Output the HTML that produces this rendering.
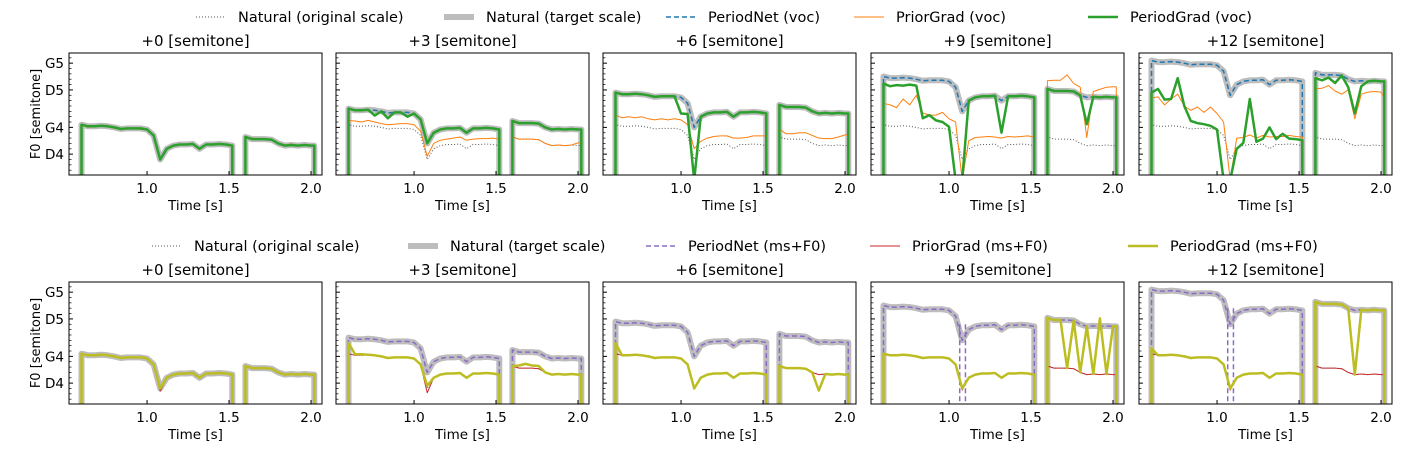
<!DOCTYPE html>
<html><head><meta charset="utf-8">
<style>
body{margin:0;background:#fff;}
svg{display:block;font-family:"DejaVu Sans","Liberation Sans",sans-serif;}
</style></head>
<body>
<svg id="fig" width="1405" height="450" viewBox="0 0 1405 450" xmlns="http://www.w3.org/2000/svg">
<defs></defs>
</svg>
<script>
// ---------- data ----------
const shifts = [0, 3, 6, 9, 12];
const seg1Times = [0.60,0.64,0.68,0.72,0.76,0.80,0.84,0.88,0.92,0.96,1.00,1.04,1.08,1.12,1.16,1.20,1.24,1.28,1.32,1.36,1.40,1.44,1.48,1.52];
const seg2Times = [1.60,1.64,1.68,1.72,1.76,1.80,1.84,1.88,1.92,1.96,2.00,2.02];
const natSeg1 = [67.5,67.2,67.2,67.3,67.2,67.0,66.7,66.8,66.8,66.8,66.6,65.5,61.0,63.0,63.6,63.8,63.8,63.9,63.0,63.8,63.8,63.9,63.8,63.6];
const natSeg2 = [65.2,64.8,64.8,64.8,64.7,64.0,63.6,63.7,63.6,63.7,63.6,63.6];
const xTicks = [1.0, 1.5, 2.0];
const yTickNotes = [79, 74, 67, 62];
const yTickLabels = ["G5", "D5", "G4", "D4"];

// offsets (semitones added to natural); null = drop to bottom
const priorVocSeg1 = [
 [0,-0.2,0.1,0,0.2,-0.2,0,-0.1,0,-0.2,0,0,0.3,0,0,0.1,0,0,0,0,0,0,0.1,0],
 [0.8,1,0.8,1,0.8,0.7,0.8,0.8,0.9,0.9,0.9,0.8,0.6,1,1,1,1.2,1.3,1.6,1,1.1,1,1.2,1.2],
 [1.8,1.6,1.8,1.5,1.8,1.6,1.7,1.8,1.6,1.8,1.8,2,2,1.4,1.4,1.5,1.6,1.5,2,1.2,1.3,1.5,1.6,1.8],
 [4,4,3.5,5,4,6,3,2.5,2.5,3,2,2.5,null,1.5,1.5,1.4,1.5,1.3,2,1.5,1.4,1.4,1.6,1.6],
 [5,5.5,4,5,6,4,3.5,4,3,4,3,2.5,null,2,1.5,1.8,1.2,1.6,2.2,1.5,1.5,1.6,1.5,1.6]
];
const priorVocSeg2 = [
 [0,0.2,0.1,0,0,0.1,0.1,0.2,0,0,0,0],
 [0,0,0,0,0,0,0,0,0,0,0.5,0.5],
 [1.5,1,1,1.2,1.3,1.5,1.4,1.2,1.3,1.5,2,2],
 [10.5,11,11,12,10.5,10.5,1.5,10,10.5,10.8,11,11],
 [9,9.5,10,9,8.5,10,5,9.5,10,10,10,9]
];
const periodVocSeg1 = [
 [0,0,0,0,0,0,0,0,0,0,0,0,0,0,0,0,0,0,0,0,0,0,0,0],
 [3,3,3,3,2,3,2,3,3,2.2,3,3,3,3,3,3,3,3,3,3,3,3,3,3],
 [6,6,6,6,6,6,6,6,6,6,3,4,null,6,6,6,6,6,6,6,6,6,6,6],
 [7.7,7.5,7.7,7.5,7.8,7.8,2,2.5,1.5,1.2,0.5,null,null,9,9,9,9,9,3,9,9,9,9,9],
 [6,7,5,5,9,4,1.5,1,0.8,0.5,0,null,null,0,0.5,8.5,0.5,1,4,1,2,1,1,1]
];
const periodVocSeg2 = [
 [0,0,0,0,0,0,0,0,0,0,0,0],
 [3,3,3,3,3,3,3,3,3,3,3,3],
 [6,6,6,6,6,6,6,6,6,6,6,6],
 [9,9,9,9,9,9,4,9,9,9,9,9],
 [11,11,11.5,10.5,12,10.5,6,11,12,12,12,12]
];
const priorMsSeg1 = [
 [0,0,0,0,0,0,0,0,0,0,0,0,-0.5,0,0,0,0,0,0,0,0,0,0,0],
 [0,0,0,0,0,0,0,0,0,0,0,0,-0.8,0,0,0,0,0,0,0,0,0,0,0],
 [0,0,0,0,0,0,0,0,0,0,0,0,0,0,0,0,0,0,0,0,0,0,0,0],
 [0,0,0,0,0,0,0,0,0,0,0,0,-0.3,0,0,0,0,0,0,0,0,0,0,0],
 [0,0,0,0,0,0,0,0,0,0,0,0,-0.3,0,0,0,0,0,0,0,0,0,0,0]
];
const priorMsSeg2 = [
 [0,0,0,0,0,0,0,0,0,0,0,0],
 [0,0,0,0,0,0,0,0,0,0,0,0],
 [0,0,0,0,0,0,0,0,0,0,0,0],
 [0,0,0,0,0,0,0,0,0,0,0,0],
 [0,0,0,0,0,0,0,0,0,0,0,0]
];
const periodMsSeg1 = [
 [0,0,0,0,0,0,0,0,0,0,0,0,0,0,0,0,0,0,0,0,0,0,0,0],
 [2,0.2,0.2,0,0,0,0,0,0,0,0,0,0.5,0,0,0,0,0,0,0,0,0,0,0],
 [2,0,0,0,0,0,0,0,0,0,0,0,0,0,0,0,0,0,0,0,0,0,0,0],
 [0,0,0,0,0,0,0,0,0,0,0,0,0,0,0,0,0,0,0,0,0,0,0,0],
 [1,0,0,0,0,0,0,0,0,0,0,0,0,0,0,0,0,0,0,0,0,0,0,0]
];
const periodMsSeg2 = [
 [0,0,0,0,0,0,0,0,0,0,0,0],
 [0,0.5,0.8,0.5,0.5,0,0,0,0,0,0,0],
 [0,0,0,0,0,0,-3,0,0,0,0,0],
 [9,9,9,0,9,0,9,0,10.5,0,9,9],
 [12,12,12,12,12,12,0,12,12,12,12,12]
];
const periodNetMsDrop = [false,false,false,true,true];

// ---------- layout ----------
const NS = "http://www.w3.org/2000/svg";
const svg = document.getElementById('fig');
const defs = svg.querySelector('defs');
const panelLefts = [69, 336, 603, 871, 1139];
const panelW = 253;
const rows = [{top:53,bottom:175}, {top:282,bottom:404}];
const T0 = 0.524, T1 = 2.067;
const M0 = 58.1, M1 = 80.9;

function el(tag, attrs, parent){
  const e = document.createElementNS(NS, tag);
  for (const k in attrs) e.setAttribute(k, attrs[k]);
  (parent||svg).appendChild(e);
  return e;
}
function xs(left){ return t => left + (t - T0) / (T1 - T0) * panelW; }
function ys(row){ return m => row.bottom - (m - M0) / (M1 - M0) * (row.bottom - row.top); }

function segPoints(times, nat, offs, shiftAll, X, Y, bottom){
  const pts = [[X(times[0]), bottom + 5]];
  times.forEach((t, i) => {
    const o = offs === null ? shiftAll : offs[i];
    if (o === null) pts.push([X(t), bottom + 5]);
    else pts.push([X(t), Y(nat[i] + o)]);
  });
  pts.push([X(times[times.length-1]), bottom + 5]);
  return pts.map(p => p[0].toFixed(1) + ',' + p[1].toFixed(1)).join(' ');
}

function drawSeries(g, X, Y, bottom, off1, off2, shiftAll, style, name){
  [[seg1Times, natSeg1, off1], [seg2Times, natSeg2, off2]].forEach(([tt, nn, oo], si) => {
    const p = el('polyline', Object.assign({points: segPoints(tt, nn, oo, shiftAll, X, Y, bottom), fill:'none', 'stroke-linejoin':'round'}, style), g);
    
    
  });
}

function text(x, y, s, attrs, name){
  const t = el('text', Object.assign({x:x, y:y, 'font-size':13, fill:'#000'}, attrs||{}));
  t.textContent = s;
  
  
  return t;
}

function legend(y, items, name){
  const g = el('g', {});
  
  
  items.forEach(it => {
    el('line', Object.assign({x1:it.x, x2:it.x+30, y1:y, y2:y, fill:'none'}, it.style), g);
    const t = el('text', {x:it.x+42, y:y+5, 'font-size':14.5, fill:'#000'}, g);
    t.textContent = it.label;
    
    
  });
}
const sDot = {stroke:'#555', 'stroke-width':1, 'stroke-dasharray':'1,2'};
const sTarget = {stroke:'#bdbdbd', 'stroke-width':6};
const sPNv = {stroke:'#1f77b4', 'stroke-width':1.5, 'stroke-dasharray':'5,3'};
const sPGv = {stroke:'#ff7f0e', 'stroke-width':1};
const sPDv = {stroke:'#2ca02c', 'stroke-width':2.5};
const sPNm = {stroke:'#8c6bc8', 'stroke-width':1.5, 'stroke-dasharray':'5,3'};
const sPGm = {stroke:'#c8282a', 'stroke-width':1};
const sPDm = {stroke:'#bcbd22', 'stroke-width':2.5};

legend(17, [
  {x:196, style:sDot, label:'Natural (original scale)'},
  {x:444, style:sTarget, label:'Natural (target scale)'},
  {x:666, style:sPNv, label:'PeriodNet (voc)'},
  {x:854, style:sPGv, label:'PriorGrad (voc)'},
  {x:1088, style:sPDv, label:'PeriodGrad (voc)'}
], 'legend-top');
legend(246, [
  {x:152, style:sDot, label:'Natural (original scale)'},
  {x:408, style:sTarget, label:'Natural (target scale)'},
  {x:646, style:sPNm, label:'PeriodNet (ms+F0)'},
  {x:870, style:sPGm, label:'PriorGrad (ms+F0)'},
  {x:1128, style:sPDm, label:'PeriodGrad (ms+F0)'}
], 'legend-bottom');

rows.forEach((row, ri) => {
  const Y = ys(row);
  shifts.forEach((sh, pi) => {
    const left = panelLefts[pi];
    const X = xs(left);
    const g = el('g', {});
    
    
    const cid = 'clip' + ri + '_' + pi;
    const cp = el('clipPath', {id:cid}, defs);
    el('rect', {x:left, y:row.top, width:panelW, height:row.bottom-row.top}, cp);
    const dg = el('g', {'clip-path':'url(#'+cid+')'}, g);
    drawSeries(dg, X, Y, row.bottom, null, null, sh, sTarget, 'natural-target-scale');
    drawSeries(dg, X, Y, row.bottom, null, null, 0, sDot, 'natural-original-scale');
    if (ri === 0){
      drawSeries(dg, X, Y, row.bottom, null, null, sh, sPNv, 'periodnet-voc');
      drawSeries(dg, X, Y, row.bottom, priorVocSeg1[pi], priorVocSeg2[pi], 0, sPGv, 'priorgrad-voc');
      drawSeries(dg, X, Y, row.bottom, periodVocSeg1[pi], periodVocSeg2[pi], 0, sPDv, 'periodgrad-voc');
    } else {
      drawSeries(dg, X, Y, row.bottom, null, null, sh, sPNm, 'periodnet-ms');
      if (periodNetMsDrop[pi]){
        [1.065, 1.10].forEach(t => {
          const l = el('line', Object.assign({x1:X(t), x2:X(t), y1:Y(natSeg1[12]+sh+3), y2:row.bottom+5}, sPNm), dg);
          
          
        });
      }
      drawSeries(dg, X, Y, row.bottom, priorMsSeg1[pi], priorMsSeg2[pi], 0, sPGm, 'priorgrad-ms');
      drawSeries(dg, X, Y, row.bottom, periodMsSeg1[pi], periodMsSeg2[pi], 0, sPDm, 'periodgrad-ms');
    }
    const fr = el('rect', {x:left, y:row.top, width:panelW, height:row.bottom-row.top, fill:'none', stroke:'#000', 'stroke-width':1}, g);
    
    
    xTicks.forEach(t => {
      el('line', {x1:X(t), x2:X(t), y1:row.bottom, y2:row.bottom-4, stroke:'#000', 'stroke-width':1}, g);
      text(X(t), row.bottom+18, t.toFixed(1), {'text-anchor':'middle', 'font-size':13.5}, 'x-tick-label');
    });
    text(left+panelW/2, row.bottom+35, 'Time [s]', {'text-anchor':'middle', 'font-size':13.5}, 'x-axis-title');
    for (let m = Math.ceil(M0); m <= M1; m++){
      const major = yTickNotes.indexOf(m) >= 0;
      el('line', {x1:left, x2:left+(major?4:2.5), y1:Y(m), y2:Y(m), stroke:'#000', 'stroke-width':major?1:0.7}, g);
    }
    if (pi === 0){
      yTickNotes.forEach((m, i) => text(left-5, Y(m)+5, yTickLabels[i], {'text-anchor':'end', 'font-size':13.5}, 'y-tick-label'));
      text(0, 0, 'F0 [semitone]', {'text-anchor':'middle', transform:'translate(40,'+((row.top+row.bottom)/2)+') rotate(-90)', 'font-size':13}, 'y-axis-title');
    }
    text(left+panelW/2, row.top-7, '+' + sh + ' [semitone]', {'text-anchor':'middle', 'font-size':15}, 'panel-title');
  });
});
</script>
</body></html>
